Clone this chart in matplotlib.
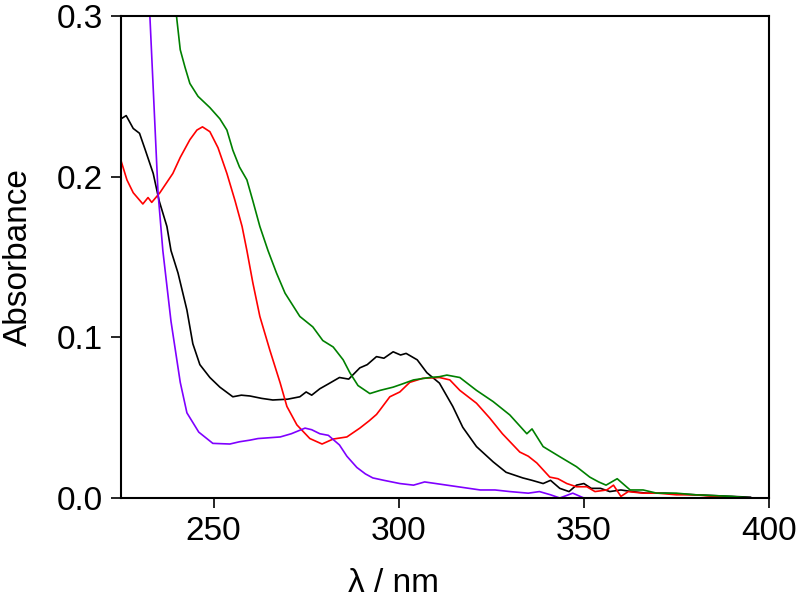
import matplotlib
matplotlib.use("Agg")
import matplotlib.pyplot as plt

plt.rcParams['font.family'] = ['Liberation Sans', 'DejaVu Sans']

# black spectrum
black_x = [225, 226.4, 228.3, 230, 231.5, 233.7, 235.3, 237.4, 238.5, 240.4, 242.8, 244.4,
           246.3, 249, 251.7, 255.2, 257.5, 259.8, 263, 266, 270, 273.3, 275, 276.5, 278.7,
           281, 284, 286.5, 289.5, 291.5, 294, 296, 298.5, 300.5, 302, 305, 307.6, 311,
           314.6, 317.3, 321, 325.5, 329, 333.5, 336, 339, 341, 343.5, 346, 348, 350,
           352, 354.5, 357, 360, 363, 367, 372, 380, 385, 390, 395]
black_y = [0.236, 0.238, 0.230, 0.227, 0.217, 0.202, 0.185, 0.169, 0.154, 0.140, 0.117, 0.096,
           0.083, 0.075, 0.069, 0.063, 0.064, 0.0635, 0.062, 0.061, 0.0615, 0.063, 0.066, 0.064, 0.068,
           0.071, 0.075, 0.074, 0.081, 0.083, 0.088, 0.087, 0.091, 0.089, 0.090, 0.086, 0.078, 0.0715,
           0.057, 0.044, 0.032, 0.0225, 0.016, 0.0125, 0.011, 0.009, 0.011, 0.006, 0.004, 0.008, 0.009,
           0.006, 0.006, 0.004, 0.005, 0.004, 0.003, 0.003, 0.002, 0.0015, 0.001, 0.0005]

# red spectrum
red_x = [225, 226.6, 228.3, 230.9, 232.3, 233.3, 235.5, 239, 241, 243.6, 245.5, 247, 249,
         251.2, 253.6, 255.8, 257.7, 259, 260.6, 262.5, 265.2, 268, 269.8, 272.5, 276, 279.3,
         282.3, 286, 289.5, 292, 294, 295, 297.6, 300.3, 303, 306.5, 311, 313.8, 316.5, 321,
         324.6, 328, 332.7, 335, 337.3, 340.8, 343, 345.4, 348, 350.8, 353, 356.2, 358, 360,
         362, 366, 370, 375, 380, 385, 390]
red_y = [0.210, 0.198, 0.190, 0.183, 0.187, 0.184, 0.190, 0.202, 0.212, 0.223, 0.229, 0.231, 0.228,
         0.218, 0.202, 0.185, 0.169, 0.154, 0.134, 0.113, 0.092, 0.0715, 0.057, 0.0455, 0.037, 0.0336,
         0.0367, 0.038, 0.0435, 0.048, 0.052, 0.055, 0.063, 0.066, 0.072, 0.0745, 0.075, 0.0735, 0.067, 0.059,
         0.0497, 0.040, 0.0286, 0.026, 0.0218, 0.013, 0.012, 0.009, 0.007, 0.007, 0.004, 0.005, 0.008, 0.001,
         0.004, 0.003, 0.003, 0.002, 0.002, 0.001, 0.0]

# green spectrum
green_x = [239.5, 241, 242.3, 243.6, 245.8, 249, 251.7, 253.6, 255.2, 257, 259, 260.6, 262.5,
           264.7, 267, 269.3, 273.3, 276.8, 279.5, 282.3, 285, 286.8, 289, 292.2, 295, 298.5,
           301, 304, 308.4, 311, 313, 316.5, 321, 325.5, 330, 334.6, 336, 339, 343.5, 348,
           351.6, 354, 356, 359, 362.5, 366, 369.7, 375, 380, 385, 390, 395]
green_y = [0.310, 0.279, 0.268, 0.258, 0.250, 0.243, 0.236, 0.229, 0.2165, 0.206, 0.198, 0.185, 0.169,
           0.154, 0.140, 0.1275, 0.113, 0.1065, 0.098, 0.094, 0.086, 0.078, 0.070, 0.065, 0.067, 0.069,
           0.071, 0.0735, 0.075, 0.0755, 0.0765, 0.075, 0.067, 0.060, 0.0517, 0.040, 0.043, 0.032, 0.0257, 0.0195,
           0.013, 0.010, 0.008, 0.012, 0.005, 0.005, 0.003, 0.003, 0.002, 0.0015, 0.001, 0.0]

# purple spectrum
purple_x = [229, 232.8, 235, 236.3, 238.5, 241, 242.8, 246, 249.8, 254.4, 257, 259.8, 262, 265,
            268, 271, 274.7, 276.5, 278.7, 281, 284, 286, 288.7, 291, 293, 296, 300.3, 304,
            307, 310, 313, 316, 319, 322, 326, 330, 335, 338, 341, 343.5, 347, 350, 355, 360]
purple_y = [0.420, 0.300, 0.190, 0.154, 0.110, 0.072, 0.053, 0.041, 0.034, 0.0336, 0.035, 0.036, 0.037, 0.0375,
            0.038, 0.040, 0.0435, 0.0425, 0.040, 0.039, 0.033, 0.026, 0.019, 0.015, 0.0125, 0.011, 0.009, 0.008,
            0.010, 0.009, 0.008, 0.007, 0.006, 0.005, 0.005, 0.004, 0.003, 0.004, 0.002, 0.0, 0.003, 0.0, 0.0, 0.0]

fig = plt.figure(figsize=(8, 6.04), dpi=100)
ax = fig.add_axes([121 / 800, 1 - 498 / 604, 648 / 800, 482 / 604])

ax.plot(black_x, black_y, color='black', lw=1.2)
ax.plot(red_x, red_y, color='#ff0000', lw=1.2)
ax.plot(green_x, green_y, color='#008000', lw=1.2)
ax.plot(purple_x, purple_y, color='#7f00ff', lw=1.2)

ax.set_xlim(225, 400)
ax.set_ylim(0, 0.3)
ax.set_xticks([250, 300, 350, 400])
ax.set_yticks([0.0, 0.1, 0.2, 0.3])
ax.set_yticklabels(['0.0', '0.1', '0.2', '0.3'])

for s in ax.spines.values():
    s.set_linewidth(1.5)
ax.tick_params(direction='out', length=7, width=1.2, labelsize=24, pad=6,
               top=False, right=False)

ax.set_xlabel('λ / nm', fontsize=24)
ax.xaxis.set_label_coords(0.42, -0.145)
ax.set_ylabel('Absorbance', fontsize=24)
ax.yaxis.set_label_coords(-0.135, 0.5)

fig.savefig('out.png', dpi=100)
